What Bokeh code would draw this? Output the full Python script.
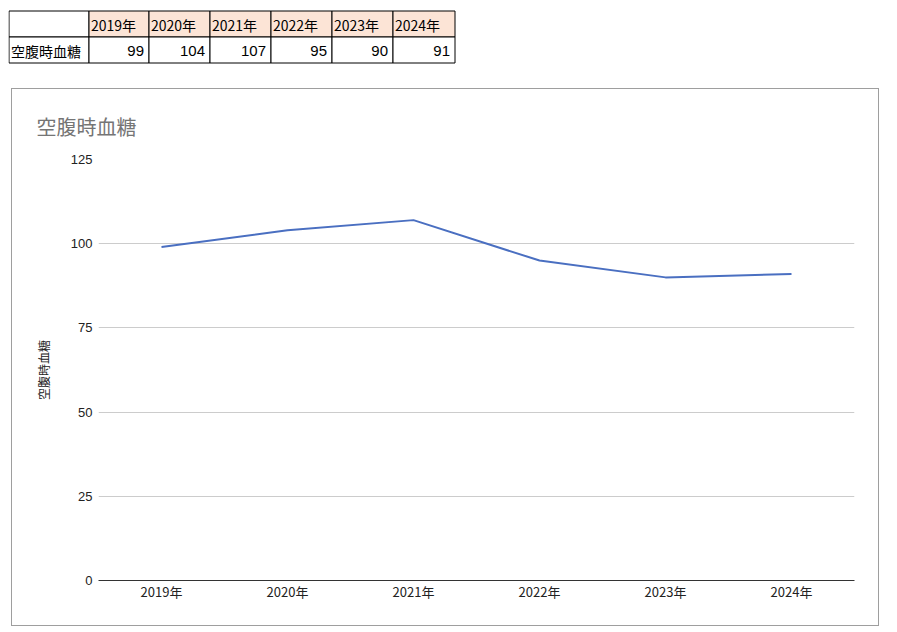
from bokeh.plotting import figure
from bokeh.models import (ColumnDataSource, FactorRange, Range1d, FixedTicker, Title)
from bokeh.layouts import column, row
from bokeh.core.properties import value
from bokeh.embed import file_html
from bokeh.resources import INLINE

# ---- data ----
years = ["2019年", "2020年", "2021年", "2022年", "2023年", "2024年"]
glucose = [99, 104, 107, 95, 90, 91]
series_name = "空腹時血糖"
y_ticks = [0, 25, 50, 75, 100, 125]

FONT = "Liberation Sans"
CJK = "Noto Sans CJK JP"

# ---- table figure ----
TW, TH = 450, 78
col_widths = [80, 60, 61, 61, 61, 61, 62]
x0, y0, rh = 0.5, 2.5, 26
edges = [x0]
for w in col_widths:
    edges.append(edges[-1] + w)

t = figure(width=TW, height=TH, output_backend="svg", toolbar_location=None,
           x_range=Range1d(0, TW), y_range=Range1d(TH, 0),
           min_border=0, min_border_left=0, min_border_right=0,
           min_border_top=0, min_border_bottom=0)
t.axis.visible = False
t.grid.visible = False
t.outline_line_color = None
t.background_fill_color = "white"
t.border_fill_color = "white"

left, right, top, bottom, fills = [], [], [], [], []
for r in range(2):
    for c in range(len(col_widths)):
        left.append(edges[c]); right.append(edges[c + 1])
        top.append(y0 + r * rh); bottom.append(y0 + (r + 1) * rh)
        fills.append("#fce4d6" if (r == 0 and c > 0) else "white")
t.quad(left=left, right=right, top=top, bottom=bottom, fill_color=fills,
       line_color="black", line_width=1)

hx = [edges[c] + 2 for c in range(1, len(col_widths))]
t.text(x=hx, y=[y0 + rh / 2 + 1] * len(years), text=years,
       text_font=value(CJK), text_font_size="14px", text_baseline="middle",
       text_align="left", text_color="black")
t.text(x=[edges[0] + 2], y=[y0 + rh * 1.5 + 1], text=[series_name],
       text_font=value(CJK), text_font_size="14px", text_baseline="middle",
       text_align="left", text_color="black")
vx = [edges[c + 1] - 5 for c in range(1, len(col_widths))]
t.text(x=vx, y=[y0 + rh * 1.5 + 1] * len(glucose), text=[str(v) for v in glucose],
       text_font=value(FONT), text_font_size="15px", text_baseline="middle",
       text_align="right", text_color="black")

# ---- chart figure ----
W, H = 868, 538
p = figure(width=W, height=H, output_backend="svg", toolbar_location=None,
           x_range=FactorRange(factors=years, range_padding=0),
           y_range=Range1d(0, 125),
           min_border_left=86, min_border_right=26,
           min_border_top=70, min_border_bottom=47)
p.outline_line_color = None
p.background_fill_color = "white"
p.border_fill_color = "white"
p.styles = {"border": "1px solid #9e9e9e", "margin-left": "3px", "margin-top": "2px"}

p.title = Title(text=series_name, text_font=CJK, text_font_size="20px",
                text_font_style="normal", text_color="#757575",
                align="left", offset=-62, standoff=38)

src = ColumnDataSource(dict(x=years, y=glucose))
p.line("x", "y", source=src, line_color="#4a6fc1", line_width=2)

p.xgrid.visible = False
p.ygrid.grid_line_color = "#cccccc"
p.ygrid.grid_line_width = 1

p.yaxis.ticker = FixedTicker(ticks=y_ticks)
p.yaxis.axis_line_color = None
p.yaxis.major_tick_line_color = None
p.yaxis.minor_tick_line_color = None
p.yaxis.major_tick_out = 0
p.yaxis.major_tick_in = 0
p.yaxis.minor_tick_out = 0
p.yaxis.major_label_text_font = FONT
p.yaxis.major_label_text_font_size = "13px"
p.yaxis.major_label_text_color = "#222222"
p.yaxis.major_label_standoff = 6
p.yaxis.axis_label = series_name
p.yaxis.axis_label_text_font = CJK
p.yaxis.axis_label_text_font_size = "12px"
p.yaxis.axis_label_text_font_style = "normal"
p.yaxis.axis_label_text_color = "#222222"
p.yaxis.axis_label_standoff = 16

p.xaxis.axis_line_color = "#333333"
p.xaxis.axis_line_width = 1
p.xaxis.major_tick_line_color = None
p.xaxis.minor_tick_line_color = None
p.xaxis.major_tick_out = 0
p.xaxis.major_tick_in = 0
p.xaxis.minor_tick_out = 0
p.xaxis.major_label_text_font = CJK
p.xaxis.major_label_text_font_size = "13px"
p.xaxis.major_label_text_color = "#222222"
p.xaxis.major_label_standoff = 1

layout = column(row(t), row(p), styles={"margin-left": "8px", "margin-top": "8px"})
open("out.html", "w").write(file_html(layout, INLINE))
